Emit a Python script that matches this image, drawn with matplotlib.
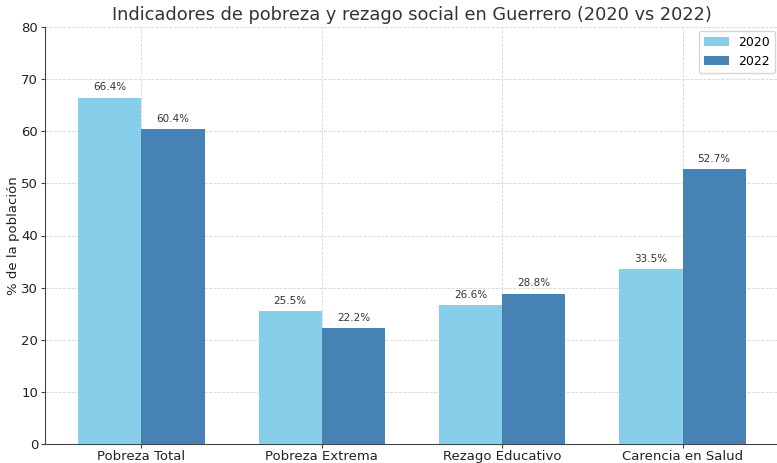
import matplotlib
matplotlib.use("Agg")
import matplotlib.pyplot as plt
import numpy as np

categories = ["Pobreza Total", "Pobreza Extrema", "Rezago Educativo", "Carencia en Salud"]
values_2020 = [66.4, 25.5, 26.6, 33.5]
values_2022 = [60.4, 22.2, 28.8, 52.7]

fig = plt.figure(figsize=(7.77, 4.63), dpi=100)
ax = fig.add_axes([45/777, 19/463, 734/777, 417/463])

x = np.arange(len(categories))
w = 0.35
b1 = ax.bar(x - w/2, values_2020, w, color="#87CEEB", label="2020", zorder=3)
b2 = ax.bar(x + w/2, values_2022, w, color="#4682B4", label="2022", zorder=3)

for bars in (b1, b2):
    for r in bars:
        ax.annotate(f"{r.get_height():.1f}%", (r.get_x() + r.get_width()/2, r.get_height()),
                    xytext=(0, 4), textcoords="offset points", ha="center", va="bottom",
                    fontsize=7.5, color="#333333")

ax.set_xticks(x)
ax.set_xticklabels(categories, fontsize=9.5, color="#222222")
ax.set_ylim(0, 80)
ax.set_yticks(range(0, 81, 10))
ax.tick_params(axis="y", labelsize=9.5, labelcolor="#222222", length=3, pad=2, color="#444444")
ax.tick_params(axis="x", length=3, pad=1.5, color="#444444")
ax.set_ylabel("% de la población", fontsize=9.5, color="#222222", labelpad=1)
ax.set_title("Indicadores de pobreza y rezago social en Guerrero (2020 vs 2022)",
             fontsize=12.8, color="#333333", pad=5)
ax.grid(True, linestyle="--", color="#d5d5d5", linewidth=0.6, zorder=0)
for s in ("top", "right"):
    ax.spines[s].set_visible(False)
for s in ("left", "bottom"):
    ax.spines[s].set_color("#444444")
ax.legend(loc="upper right", fontsize=9, bbox_to_anchor=(1.0, 1.0), borderaxespad=0.3)

fig.savefig("out.png", dpi=100)
